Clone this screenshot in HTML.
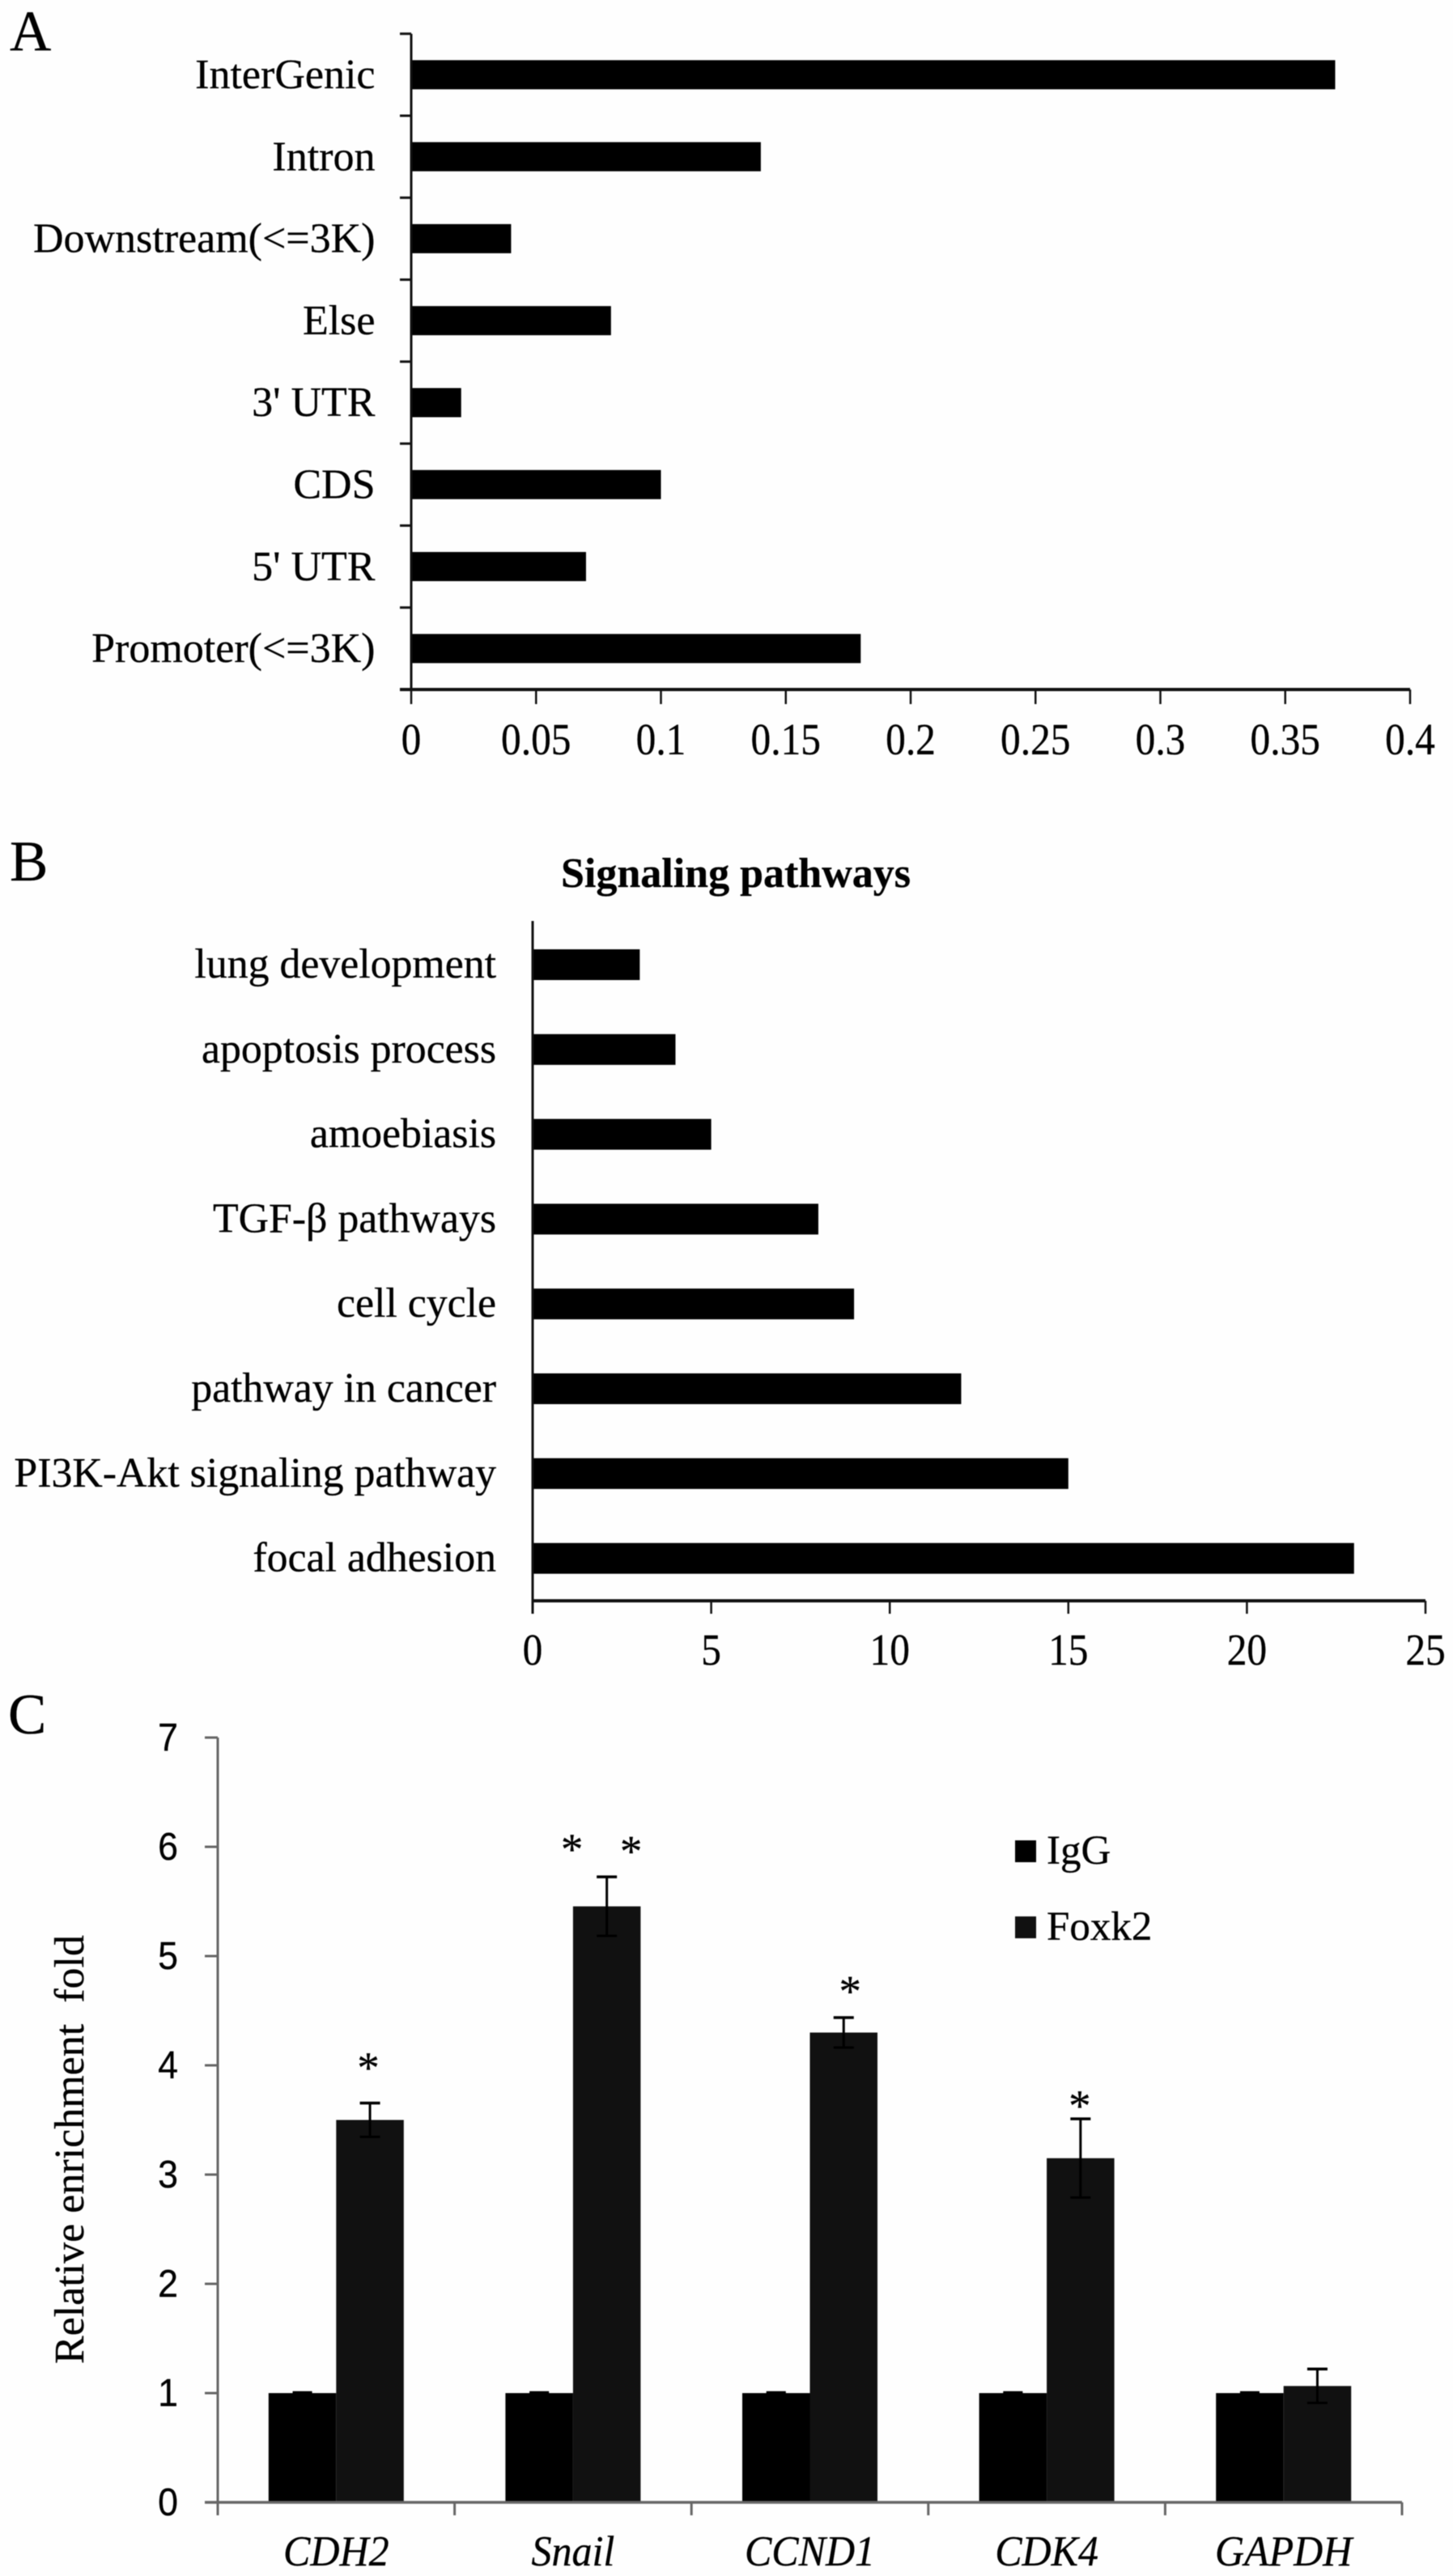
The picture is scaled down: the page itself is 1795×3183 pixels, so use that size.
<!DOCTYPE html>
<html lang="en">
<head>
<meta charset="utf-8">
<title>Foxk2 binding, signaling pathways and ChIP enrichment</title>
<style>
html,body{margin:0;padding:0;background:#fefefe;}
body{width:1795px;height:3183px;overflow:hidden;}
svg{display:block;filter:blur(.6px);}
text{font-family:"Liberation Serif","Noto Serif CJK SC",serif;fill:#000;stroke:#000;stroke-width:.3px;white-space:pre;}
</style>
</head>
<body>
<svg id="figure" xmlns="http://www.w3.org/2000/svg" width="1795" height="3183" viewBox="0 0 1795 3183">
  <text x="12" y="62" font-size="71">A</text>
  <text x="12" y="1088" font-size="71">B</text>
  <text x="10" y="2142" font-size="71">C</text>
  <text x="909" y="1096" font-size="52" font-weight="bold" text-anchor="middle">Signaling pathways</text>
  <text transform="translate(103,2656) rotate(-90)" font-size="52" text-anchor="middle">Relative enrichment  fold</text>
  <rect x="1254" y="2274" width="26" height="27" fill="#000"></rect>
  <text x="1293" y="2303" font-size="51">IgG</text>
  <rect x="1254" y="2368" width="26" height="27" fill="#111"></rect>
  <text x="1293" y="2397" font-size="51">Foxk2</text>
</svg>
<script>
// Panel A data
const regionCategories = ["InterGenic", "Intron", "Downstream(<=3K)", "Else", "3' UTR", "CDS", "5' UTR", "Promoter(<=3K)"];
const regionValues = [0.37, 0.14, 0.04, 0.08, 0.02, 0.10, 0.07, 0.18];
const regionTicks = [0, 0.05, 0.1, 0.15, 0.2, 0.25, 0.3, 0.35, 0.4];

// Panel B data
const pathwayCategories = ["lung development", "apoptosis process", "amoebiasis", "TGF-β pathways", "cell cycle", "pathway in cancer", "PI3K-Akt signaling pathway", "focal adhesion"];
const pathwayValues = [3, 4, 5, 8, 9, 12, 15, 23];
const pathwayTicks = [0, 5, 10, 15, 20, 25];

// Panel C data
const geneCategories = ["CDH2", "Snail", "CCND1", "CDK4", "GAPDH"];
const iggValues = [1, 1, 1, 1, 1];
const iggErrors = [0.005, 0.005, 0.005, 0.005, 0.005];
const foxk2Values = [3.5, 5.455, 4.3, 3.15, 1.065];
const foxk2Errors = [0.155, 0.27, 0.137, 0.36, 0.155];
const foldTicks = [0, 1, 2, 3, 4, 5, 6, 7];
const significanceMarks = [
  {gene: 0, offset: -2, level: 4.05},
  {gene: 1, offset: -43, level: 6.05},
  {gene: 1, offset: 30, level: 6.03},
  {gene: 2, offset: 8, level: 4.75},
  {gene: 3, offset: -1, level: 3.7}
];

const svg = document.getElementById('figure');
const NS = 'http://www.w3.org/2000/svg';

function mk(tag, attrs, text) {
  const el = document.createElementNS(NS, tag);
  for (const k in attrs) el.setAttribute(k, attrs[k]);
  if (text !== undefined) el.textContent = text;
  svg.appendChild(el);
  return el;
}

function hLine(x1, x2, y, w, color) {
  return mk('line', {x1: x1, x2: x2, y1: y, y2: y, stroke: color, 'stroke-width': w});
}
function vLine(x, y1, y2, w, color) {
  return mk('line', {x1: x, x2: x, y1: y1, y2: y2, stroke: color, 'stroke-width': w});
}

/* ---------- Panel A ---------- */
const aLeft = 508, aRight = 1742, aTop = 41.7, aBottom = 852;
const aX = v => aLeft + (v / regionTicks[regionTicks.length - 1]) * (aRight - aLeft);
const aBand = (aBottom - aTop) / regionCategories.length;
const aY = i => aTop + (i + 0.5) * aBand;

regionCategories.forEach((name, i) => {
  const bar = mk('rect', {x: aLeft, y: aY(i) - 18, width: aX(regionValues[i]) - aLeft, height: 36, fill: '#000'});
  
  
  const label = mk('text', {x: 463.5, y: aY(i) + 16.7, 'font-size': 52, 'text-anchor': 'end'}, name);
  
  
});
for (let i = 0; i < regionCategories.length; i++) {
  const t = hLine(494, aLeft, aTop + i * aBand, 3, '#111');
  
  
}
const aYAxis = vLine(aLeft, aTop, aBottom, 3, '#111');


const aXAxis = hLine(494, aRight, aBottom, 4, '#111');


regionTicks.forEach(v => {
  const t = vLine(aX(v), aBottom, 870, 2.5, '#111');
  
  
  const l = mk('text', {transform: 'translate(' + aX(v) + ',932) scale(.95,1.05)', 'font-size': 52, 'text-anchor': 'middle'}, String(v));
  
  
});

/* ---------- Panel B ---------- */
const bLeft = 658, bRight = 1761, bTop = 1139.6, bBottom = 1978;
const bX = v => bLeft + (v / pathwayTicks[pathwayTicks.length - 1]) * (bRight - bLeft);
const bBand = (bBottom - bTop) / pathwayCategories.length;
const bY = i => bTop + (i + 0.5) * bBand;

pathwayCategories.forEach((name, i) => {
  const bar = mk('rect', {x: bLeft, y: bY(i) - 19, width: bX(pathwayValues[i]) - bLeft, height: 38, fill: '#000'});
  
  
  const label = mk('text', {x: 613, y: bY(i) + 16, 'font-size': 51.8, 'text-anchor': 'end'}, name);
  
  
});
const bYAxis = vLine(bLeft, 1138, 1994, 3, '#111');


const bXAxis = hLine(bLeft, bRight, bBottom, 4, '#111');


pathwayTicks.forEach(v => {
  const t = vLine(bX(v), bBottom, 1994, 2.5, '#111');
  
  
  const l = mk('text', {transform: 'translate(' + bX(v) + ',2057) scale(.95,1.05)', 'font-size': 52, 'text-anchor': 'middle'}, String(v));
  
  
});

/* ---------- Panel C ---------- */
const cLeft = 269, cRight = 1732, cBase = 3092, cUnit = 135;
const cY = v => cBase - v * cUnit;
const cBand = (cRight - cLeft) / geneCategories.length;
const cCenter = i => cLeft + (i + 0.5) * cBand;
const cBarW = 83.5;

function errorBar(x, value, err, capHalf) {
  const stem = vLine(x, cY(value + err), cY(value - err), 3, '#000');
  
  
  const top = hLine(x - capHalf, x + capHalf, cY(value + err), 3.5, '#000');
  
  
  const bottom = hLine(x - capHalf, x + capHalf, cY(value - err), 3, '#000');
  
  
}

geneCategories.forEach((name, i) => {
  const c = cCenter(i);
  const igg = mk('rect', {x: c - cBarW, y: cY(iggValues[i]), width: cBarW, height: cBase - cY(iggValues[i]), fill: '#000'});
  
  
  const fox = mk('rect', {x: c, y: cY(foxk2Values[i]), width: cBarW, height: cBase - cY(foxk2Values[i]), fill: '#111'});
  
  
  errorBar(c - cBarW / 2, iggValues[i], iggErrors[i], 12);
  errorBar(c + cBarW / 2, foxk2Values[i], foxk2Errors[i], 12.5);
  const label = mk('text', {transform: 'translate(' + c + ',3170) scale(1,1.05)', 'font-size': 50, 'font-style': 'italic', 'text-anchor': 'middle'}, name);
  
  
});

foldTicks.forEach(v => {
  const t = hLine(253, cLeft, cY(v), 3, '#666');
  
  
  const l = mk('text', {transform: 'translate(220,' + (cY(v) + 16) + ') scale(.95,1.02)', 'font-size': 47, 'text-anchor': 'end', style: 'font-family:"Liberation Sans",sans-serif'}, String(v));
  
  
});
const cYAxis = vLine(cLeft, cY(foldTicks[foldTicks.length - 1]), 3108, 3, '#666');


const cXAxis = hLine(253, cRight, cBase, 3.5, '#666');


for (let i = 0; i <= geneCategories.length; i++) {
  const t = vLine(cLeft + i * cBand, cBase, 3108, 3, '#666');
  
  
}
significanceMarks.forEach(m => {
  const s = mk('text', {x: cCenter(m.gene) + cBarW / 2 + m.offset, y: cY(m.level) + 28, 'font-size': 55, 'text-anchor': 'middle'}, '*');
  
  
});
</script>
</body>
</html>
